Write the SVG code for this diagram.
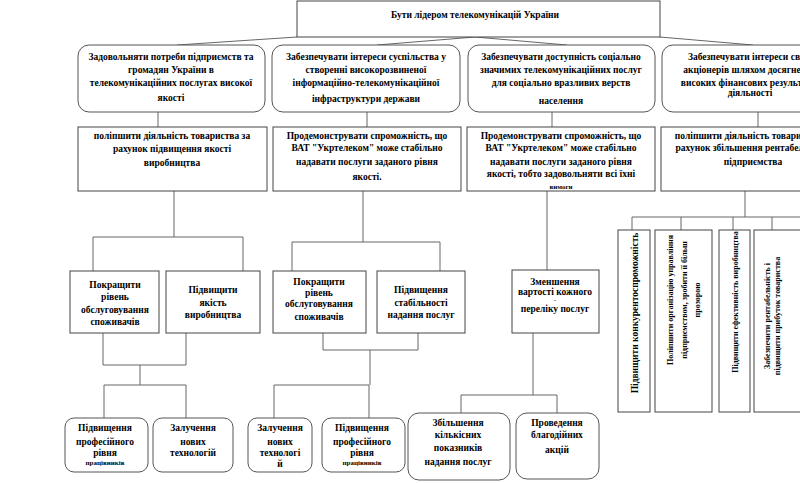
<svg xmlns="http://www.w3.org/2000/svg" width="800" height="483" viewBox="0 0 800 483">
<style>
text{font-family:"Liberation Serif","Times New Roman",serif;font-weight:bold;font-size:9.5px;fill:#000;text-anchor:middle}
.box{fill:#fff;stroke:#444;stroke-width:1}
.rbox{fill:#fff;stroke:#555;stroke-width:1}
.con{fill:none;stroke:#666;stroke-width:1}
.sm{font-size:7px}
.vt{font-size:8px}
</style>
<rect width="800" height="483" fill="#fff"/>
<g id="connectors">
<path class="con" d="M297,37 L177,45 M475,37 L377,45 M475,37 L567,45 M660,37 L753,45"/>
<path class="con" d="M158,112 V127 M367,112 V127 M552,112 V127 M758,112 V127"/>
<path class="con" d="M174,191 V237 M93,237 H243 M93,237 V271 M243,237 V271"/>
<path class="con" d="M363,191 V242 M292,242 H440 M292,242 V271 M440,242 V271"/>
<path class="con" d="M547,191 V270"/>
<path class="con" d="M745,191 V217 M632,217 H800 M632,217 V230 M681,217 V230 M733,217 V230 M772,217 V230"/>
<path class="con" d="M103,333 V365 M186,333 V365 M103,365 H186 M140,365 V385 M104,385 H186 M104,385 V418 M186,385 V418"/>
<path class="con" d="M323,333 V350 M418,333 V350 M323,350 H418 M370,350 V385 M274,385 H369 M274,385 V418 M369,385 V418"/>
<path class="con" d="M533,333 V395 M461,395 H557 M461,395 V413 M557,395 V413"/>
</g>
<g id="n-top"><rect class="box" x="297" y="1" width="363" height="36"/><text x="475" y="18">Бути лідером телекомунікацій України</text></g>
<g id="n-r1"><rect class="rbox" x="78" y="45" width="187" height="67" rx="11"/>
<text x="171" y="60">Задовольняти потреби підприємств та</text><text x="171" y="73">громадян України в</text><text x="171" y="86">телекомунікаційних  послугах високої</text><text x="171" y="101">якості</text></g>
<g id="n-r2"><rect class="rbox" x="272" y="45" width="188" height="67" rx="11"/>
<text x="366" y="60">Забезпечувати інтереси суспільства у</text><text x="366" y="73">створенні високорозвиненої</text><text x="366" y="86">інформаційно-телекомунікаційної</text><text x="366" y="102">інфраструктури держави</text></g>
<g id="n-r3"><rect class="rbox" x="468" y="45" width="187" height="67" rx="11"/>
<text x="561" y="60">Забезпечувати доступність соціально</text><text x="561" y="73">значимих  телекомунікаційних  послуг</text><text x="561" y="86">для соціально вразливих верств</text><text x="561" y="104">населення</text></g>
<g id="n-r4"><rect class="rbox" x="662" y="45" width="176" height="67" rx="11"/>
<text x="750" y="60">Забезпечувати інтереси своїх</text><text x="750" y="73">акціонерів шляхом досягнення</text><text x="750" y="86">високих фінансових результатів</text><text x="750" y="96">діяльності</text></g>
<g id="n-b1"><rect class="box" x="78" y="127" width="189" height="64"/>
<text x="172" y="139">поліпшити  діяльність товариства за</text><text x="172" y="152">рахунок підвищення  якості</text><text x="172" y="166">виробництва</text></g>
<g id="n-b2"><rect class="box" x="273" y="127" width="188" height="64"/>
<text x="367" y="139">Продемонструвати спроможність, що</text><text x="367" y="151">ВАТ "Укртелеком" може стабільно</text><text x="367" y="165">надавати  послуги заданого рівня</text><text x="367" y="180">якості.</text></g>
<g id="n-b3"><rect class="box" x="467" y="127" width="188" height="64"/>
<text x="561" y="139">Продемонструвати спроможність, що</text><text x="561" y="151">ВАТ "Укртелеком" може стабільно</text><text x="561" y="165">надавати  послуги заданого рівня</text><text x="561" y="177">якості, тобто задовольняти всі їхні</text><text x="561" y="189" class="sm">вимоги</text></g>
<g id="n-b4"><rect class="box" x="661" y="127" width="189" height="64"/>
<text x="753" y="139">поліпшити  діяльність товариства за</text><text x="753" y="151">рахунок збільшення рентабельності</text><text x="753" y="165">підприємства</text></g>
<g id="n-c1"><rect class="box" x="70" y="271" width="89" height="62"/>
<text x="115" y="288">Покращити</text><text x="115" y="300">рівень</text><text x="115" y="313">обслуговування</text><text x="115" y="325">споживачів</text></g>
<g id="n-c2"><rect class="box" x="166" y="271" width="94" height="62"/>
<text x="213" y="293">Підвищити</text><text x="213" y="306">якість</text><text x="213" y="318">виробництва</text></g>
<g id="n-c3"><rect class="box" x="273" y="271" width="93" height="62"/>
<text x="319" y="285">Покращити</text><text x="319" y="296">рівень</text><text x="319" y="307">обслуговування</text><text x="319" y="320">споживачів</text></g>
<g id="n-c4"><rect class="box" x="377" y="271" width="88" height="62"/>
<text x="421" y="293">Підвищення</text><text x="421" y="306">стабільності</text><text x="421" y="318">надання  послуг</text></g>
<g id="n-c5"><rect class="box" x="512" y="270" width="87" height="63"/>
<text x="555" y="285">Зменшення</text><text x="555" y="295">вартості кожного</text><text x="555" y="302" style="font-size:6px">-</text><text x="555" y="312">переліку послуг</text></g>
<g id="n-v1"><rect class="box" x="618" y="230" width="32" height="182"/>
<text transform="translate(638,313) rotate(-90)">Підвищити конкурентоспроможність</text></g>
<g id="n-v2"><rect class="box" x="655" y="230" width="57" height="182"/>
<text class="vt" transform="translate(673,300) rotate(-90)">Поліпшити організацію  управління</text><text class="vt" transform="translate(687,300) rotate(-90)">підприємством, зробити її більш</text><text class="vt" transform="translate(700,300) rotate(-90)">прозорою</text></g>
<g id="n-v3"><rect class="box" x="719" y="230" width="31" height="182"/>
<text class="vt" transform="translate(738,302) rotate(-90)">Підвищити ефективність виробництва</text></g>
<g id="n-v4"><rect class="box" x="754" y="230" width="50" height="182"/>
<text class="vt" transform="translate(770,316) rotate(-90)">Забезпечити  рентабельність  і</text><text class="vt" transform="translate(780,316) rotate(-90)">підвищити прибуток  товариства</text></g>
<g id="n-d1"><rect class="rbox" x="65" y="418" width="83" height="54" rx="9"/>
<text x="105" y="431">Підвищення</text><text x="105" y="445">професійного</text><text x="105" y="456">рівня</text><text x="105" y="465" class="sm">працівників</text></g>
<g id="n-d2"><rect class="rbox" x="153" y="418" width="80" height="54" rx="9"/>
<text x="193" y="431">Залучення</text><text x="193" y="445">нових</text><text x="193" y="456">технологій</text></g>
<g id="n-d3"><rect class="rbox" x="248" y="418" width="64" height="54" rx="9"/>
<text x="280" y="431">Залучення</text><text x="280" y="445">нових</text><text x="280" y="456">технологі</text><text x="280" y="467">й</text></g>
<g id="n-d4"><rect class="rbox" x="322" y="418" width="83" height="54" rx="9"/>
<text x="362" y="431">Підвищення</text><text x="362" y="445">професійного</text><text x="362" y="456">рівня</text><text x="362" y="465" class="sm">працівників</text></g>
<g id="n-d5"><rect class="rbox" x="408" y="413" width="102" height="67" rx="11"/>
<text x="458" y="426">Збільшення</text><text x="458" y="438">кількісних</text><text x="458" y="451">показників</text><text x="458" y="465">надання  послуг</text></g>
<g id="n-d6"><rect class="rbox" x="516" y="413" width="83" height="66" rx="11"/>
<text x="557" y="426">Проведення</text><text x="557" y="438">благодійних</text><text x="557" y="453">акцій</text></g>
</svg>
